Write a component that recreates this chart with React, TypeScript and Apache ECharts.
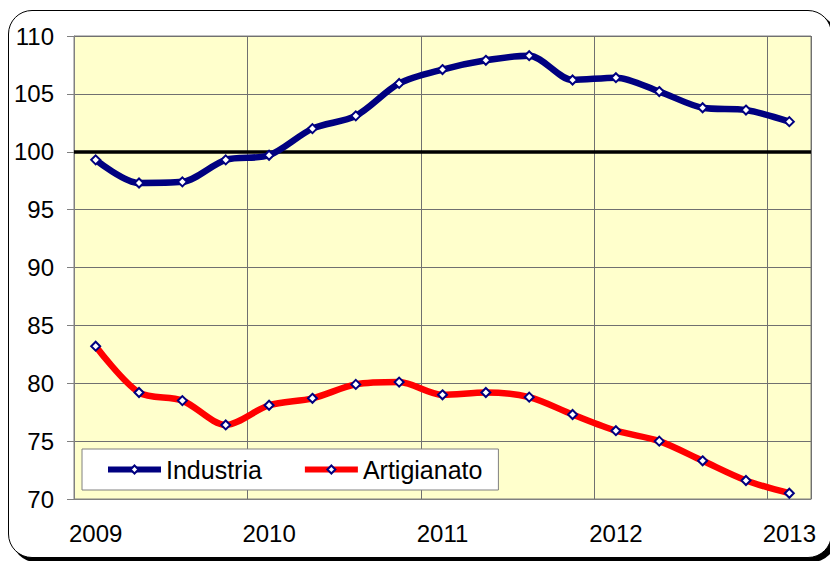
import React, { useEffect, useRef } from "react";
import * as echarts from "echarts";

const quarters = [
  "2009-T1", "2009-T2", "2009-T3", "2009-T4",
  "2010-T1", "2010-T2", "2010-T3", "2010-T4",
  "2011-T1", "2011-T2", "2011-T3", "2011-T4",
  "2012-T1", "2012-T2", "2012-T3", "2012-T4",
  "2013-T1",
];

const industria = [99.3, 97.3, 97.4, 99.3, 99.7, 102.0, 103.1, 105.9, 107.1, 107.9, 108.3, 106.2, 106.4, 105.2, 103.8, 103.6, 102.6];
const artigianato = [83.2, 79.2, 78.5, 76.4, 78.1, 78.7, 79.9, 80.1, 79.0, 79.2, 78.8, 77.3, 75.9, 75.0, 73.3, 71.6, 70.5];

const yMin = 70;
const yMax = 110;
const yStep = 5;
const baseline = 100;

const FONT = "'Liberation Sans', Arial, sans-serif";

export default function App() {
  const ref = useRef<HTMLDivElement>(null);

  useEffect(() => {
    if (!ref.current) return;
    const chart = echarts.init(ref.current, undefined, { renderer: "svg" });
    const marker = {
      symbol: "diamond",
      symbolSize: 9,
      showAllSymbol: true,
      itemStyle: { color: "#ffffff", borderColor: "#000080", borderWidth: 2 },
    };
    chart.setOption({
      animation: false,
      backgroundColor: "transparent",
      textStyle: { fontFamily: FONT },
      grid: {
        left: 74,
        top: 36,
        right: 19,
        bottom: 62,
        show: true,
        backgroundColor: "#FFFFCC",
        borderColor: "#808080",
        borderWidth: 1,
      },
      legend: {
        data: ["Industria", "Artigianato"],
        left: 82,
        top: 449,
        backgroundColor: "#ffffff",
        borderColor: "#808080",
        borderWidth: 1,
        padding: [8, 16, 8, 23],
        itemGap: 40,
        itemWidth: 53,
        itemHeight: 10,
        lineStyle: { width: 6 },
        textStyle: { fontSize: 25, color: "#000", fontFamily: FONT },
      },
      xAxis: {
        type: "category",
        data: quarters,
        boundaryGap: true,
        axisLine: { show: true, lineStyle: { color: "#808080", width: 1 } },
        axisTick: { show: false },
        axisLabel: {
          interval: 3,
          margin: 22,
          fontSize: 24,
          color: "#000",
          fontFamily: FONT,
          formatter: (v: string) => v.slice(0, 4),
        },
        splitLine: { show: true, interval: 3, lineStyle: { color: "#707070", width: 1 } },
      },
      yAxis: {
        type: "value",
        min: yMin,
        max: yMax,
        interval: yStep,
        axisLine: { show: true, lineStyle: { color: "#808080", width: 1 } },
        axisTick: { show: true, length: 7, lineStyle: { color: "#808080" } },
        axisLabel: { margin: 20, fontSize: 24, color: "#000", fontFamily: FONT },
        splitLine: { show: true, lineStyle: { color: "#707070", width: 1 } },
      },
      series: [
        {
          name: "Artigianato",
          type: "line",
          data: artigianato,
          smooth: 0.3,
          lineStyle: { color: "#FF0000", width: 6.5 },
          color: "#FF0000",
          ...marker,
          z: 3,
          markLine: {
            silent: true,
            symbol: ["none", "none"],
            label: { show: false },
            lineStyle: { color: "#000000", width: 3.5, type: "solid" },
            data: [{ yAxis: baseline }],
            z: 2,
          },
        },
        {
          name: "Industria",
          type: "line",
          data: industria,
          smooth: 0.3,
          lineStyle: { color: "#000080", width: 6.5 },
          color: "#000080",
          ...marker,
          z: 4,
        },
      ],
    });
    return () => chart.dispose();
  }, []);

  return (
    <div style={{ position: "absolute", left: 0, top: 0, width: 830, height: 561, background: "#fff", overflow: "hidden" }}>
      <div
        style={{
          position: "absolute",
          left: 8,
          top: 10,
          width: 822,
          height: 546,
          border: "1.5px solid #000",
          borderRadius: 24,
          boxShadow: "4px 4px 0 #000",
          background: "#fff",
        }}
      />
      <div ref={ref} style={{ position: "absolute", left: 0, top: 0, width: 830, height: 561 }} />
    </div>
  );
}
